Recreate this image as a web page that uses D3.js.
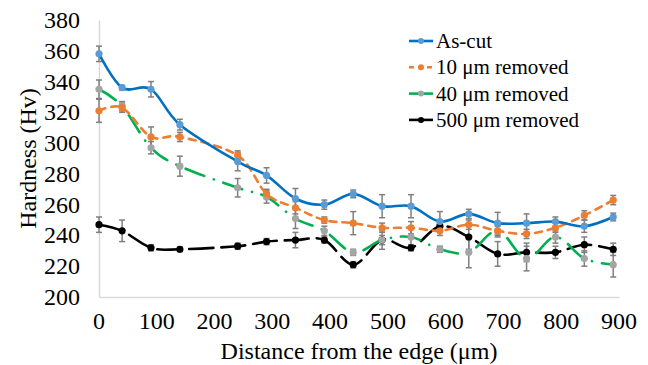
<!DOCTYPE html>
<html>
<head>
<meta charset="utf-8">
<script src="https://cdn.jsdelivr.net/npm/d3@7"></script>
</head>
<body style="margin:0">
<div id="chart"></div>
<script>
// distances (um) where hardness was measured
var distance = [0, 40, 90, 140, 240, 290, 340, 390, 440, 490, 540, 590, 640, 690, 740, 790, 840, 890];

var asCut      = [358, 336, 335, 312, 288, 279, 264, 260, 267, 259, 259, 249, 254, 248, 248, 249, 246, 252];
var asCutErr   = [5, 1.5, 5, 3.5, 6, 5, 6.5, 3, 2.5, 7.5, 7.5, 6.5, 3, 7, 6, 3, 4, 2.5];

var rem10      = [321, 323, 304, 304, 292, 267, 258, 250, 248, 245, 245, 243, 247, 243, 241, 245, 253, 263];
var rem10Err   = [7.5, 3, 6.5, 3, 3, 3, 4, 2, 7.5, 3, 4, 3, 3, 3, 3, 3, 3, 3];

var rem40      = [335, 324, 297, 285, 271, 265, 251, 243, 229, 237, 239, 231, 229, 243, 225, 239, 225, 221];
var rem40Err   = [6, 3, 4, 6.5, 6, 4, 6.5, 3, 2, 3, 7, 2, 10, 4, 8, 4, 5, 8];

var rem500     = [247, 243, 232, 231, 233, 236, 237, 237, 221, 237, 232, 246, 239, 228, 229, 229, 234, 231];
var rem500Err  = [5, 7, 2, 1.5, 2, 2, 5, 2, 2, 6, 2, 2, 8, 8, 6, 4, 5, 4];

var yTicks = [200, 220, 240, 260, 280, 300, 320, 340, 360, 380];
var xTicks = [0, 100, 200, 300, 400, 500, 600, 700, 800, 900];

var seriesNames = ["As-cut", "10 \u03bcm removed", "40 \u03bcm removed", "500 \u03bcm removed"];

var series = [
  {name: seriesNames[0], vals: asCut, err: asCutErr, color: "#0070C0", marker: "#5B9BD5", dash: null, legDash: null},
  {name: seriesNames[1], vals: rem10, err: rem10Err, color: "#ED7D31", marker: "#ED7D31", dash: "7,6", legDash: "5,4"},
  {name: seriesNames[2], vals: rem40, err: rem40Err, color: "#00B050", marker: "#A5A5A5", dash: "20,10,0.1,10", legDash: null},
  {name: seriesNames[3], vals: rem500, err: rem500Err, color: "#000000", marker: "#000000", dash: "24,8", legDash: null}
];

var W = 648, H = 365;
var margin = {top: 20, right: 29, bottom: 68, left: 99};
var width = W - margin.left - margin.right,
    height = H - margin.top - margin.bottom;

var svg = d3.select("#chart").append("svg")
    .attr("width", W)
    .attr("height", H)
    .attr("font-family", "Times New Roman");

var g = svg.append("g")
    .attr("transform", "translate(" + margin.left + "," + margin.top + ")");

var x = d3.scaleLinear().domain([0, 900]).range([0, width]);
var y = d3.scaleLinear().domain([200, 380]).range([height, 0]);

// tick labels drawn by hand-built text so the serif face sticks
var xAxis = g.append("g")
    .attr("transform", "translate(0," + height + ")")
    .call(d3.axisBottom(x).tickValues(xTicks).tickSize(0).tickFormat(""));
xAxis.attr("font-family", "Times New Roman");
xAxis.select(".domain").attr("stroke", "#D9D9D9").attr("stroke-width", 1.5);

var yAxis = g.append("g")
    .call(d3.axisLeft(y).tickValues(yTicks).tickSize(0).tickFormat(""));
yAxis.attr("font-family", "Times New Roman");
yAxis.select(".domain").attr("stroke", "#D9D9D9").attr("stroke-width", 1.5);

g.selectAll(".xlab")
    .data(xTicks)
    .enter().append("text")
    .attr("class", "xlab")
    .attr("x", function(d) { return x(d); })
    .attr("y", height + 32)
    .attr("text-anchor", "middle")
    .attr("font-family", "Times New Roman")
    .attr("font-size", 24)
    .text(function(d) { return d; });

g.selectAll(".ylab")
    .data(yTicks)
    .enter().append("text")
    .attr("class", "ylab")
    .attr("x", -19)
    .attr("y", function(d) { return y(d) + 8; })
    .attr("text-anchor", "end")
    .attr("font-family", "Times New Roman")
    .attr("font-size", 24)
    .text(function(d) { return d; });

// axis titles
svg.append("text")
    .attr("x", margin.left + width / 2)
    .attr("y", 359)
    .attr("text-anchor", "middle")
    .attr("font-family", "Times New Roman")
    .attr("font-size", 24)
    .text("Distance from the edge (\u03bcm)");

svg.append("text")
    .attr("transform", "translate(36," + (margin.top + height / 2) + ") rotate(-90)")
    .attr("text-anchor", "middle")
    .attr("font-family", "Times New Roman")
    .attr("font-size", 24)
    .text("Hardness (Hv)");

var line = d3.line()
    .x(function(d) { return x(d[0]); })
    .y(function(d) { return y(d[1]); })
    .curve(d3.curveCardinal.tension(0));

// error bars first, so lines sit on top
series.forEach(function(s) {
  var eb = g.append("g").attr("stroke", "#7F7F7F").attr("stroke-width", 1.5);
  distance.forEach(function(d, i) {
    var cx = x(d), y1 = y(s.vals[i] + s.err[i]), y2 = y(s.vals[i] - s.err[i]);
    eb.append("line").attr("x1", cx).attr("x2", cx).attr("y1", y1).attr("y2", y2);
    eb.append("line").attr("x1", cx - 3).attr("x2", cx + 3).attr("y1", y1).attr("y2", y1);
    eb.append("line").attr("x1", cx - 3).attr("x2", cx + 3).attr("y1", y2).attr("y2", y2);
  });
});

series.slice().reverse().forEach(function(s) {
  var pts = distance.map(function(d, i) { return [d, s.vals[i]]; });
  g.append("path")
      .datum(pts)
      .attr("fill", "none")
      .attr("stroke", s.color)
      .attr("stroke-width", 2.6)
      .attr("stroke-linecap", "round")
      .attr("stroke-dasharray", s.dash)
      .attr("d", line);

  g.selectAll(null)
      .data(pts)
      .enter().append("circle")
      .attr("cx", function(d) { return x(d[0]); })
      .attr("cy", function(d) { return y(d[1]); })
      .attr("r", 3.6)
      .attr("fill", s.marker);
});

// legend
var legend = svg.append("g").attr("transform", "translate(409,41)");
series.forEach(function(s, i) {
  var row = legend.append("g").attr("transform", "translate(0," + (i * 26.3) + ")");
  row.append("line")
      .attr("x1", 0).attr("x2", 24)
      .attr("stroke", s.color)
      .attr("stroke-width", 2.6)
      .attr("stroke-dasharray", s.legDash);
  row.append("circle").attr("cx", 12).attr("r", 3).attr("fill", s.marker);
  row.append("text")
      .attr("x", 27)
      .attr("y", 7)
      .attr("font-family", "Times New Roman")
      .attr("font-size", 21)
      .text(s.name);
});
</script>
</body>
</html>
